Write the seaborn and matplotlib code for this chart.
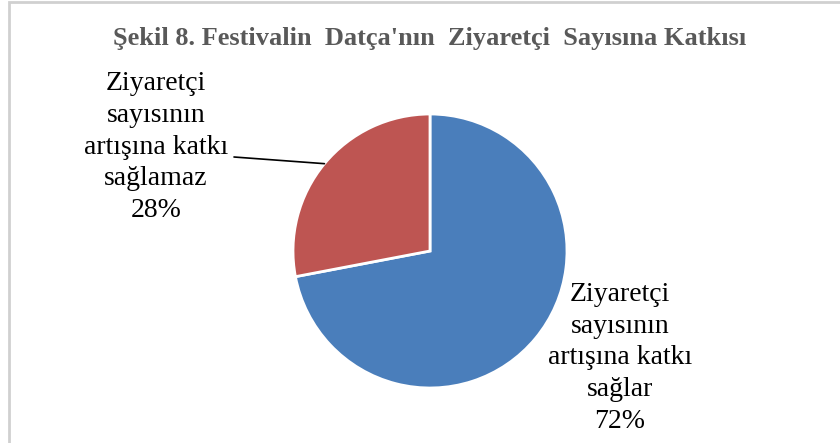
import numpy as np
import seaborn as sns
import matplotlib.pyplot as plt
from matplotlib.patches import Rectangle

# data
labels = ["Ziyaretçi\nsayısının\nartışına katkı\nsağlar\n72%",
          "Ziyaretçi\nsayısının\nartışına katkı\nsağlamaz\n28%"]
values = [72, 28]
colors = ["#4A7EBB", "#BE5552"]
title = "Şekil 8. Festivalin  Datça'nın  Ziyaretçi  Sayısına Katkısı"

sns.set_theme(style="white")
plt.rcParams['font.family'] = ['Liberation Serif', 'DejaVu Serif']

W, H = 840, 443
fig = plt.figure(figsize=(W / 100, H / 100), dpi=100)
fig.patch.set_facecolor('white')

# light grey frame of the chart area
fig.patches.append(Rectangle((9 / W, -0.05), 1.2, 1 - 1.5 / H + 0.05,
                             transform=fig.transFigure, fill=False,
                             edgecolor='#d0d0d0', lw=2))

# pie axes: centre (430, 251), radius 137 px
cx, cy, r = 430, 251, 137
ax = fig.add_axes([(cx - r) / W, (H - cy - r) / H, 2 * r / W, 2 * r / H])
wedges, _ = ax.pie(values, colors=colors, startangle=90, counterclock=False,
                   wedgeprops=dict(edgecolor='white', linewidth=2))
ax.set_xlim(-1, 1)
ax.set_ylim(-1, 1)
ax.set_aspect('equal')
ax.axis('off')

fig.text(cx / W, 1 - 38 / H, title, ha='center', va='center', fontsize=19,
         fontweight='bold', color='#595959')

# labels
fig.text(620 / W, 1 - 358 / H, labels[0], ha='center', va='center',
         fontsize=20, linespacing=1.35, color='black')
fig.text(156 / W, 1 - 147 / H, labels[1], ha='center', va='center',
         fontsize=20, linespacing=1.35, color='black')

# leader line for the small slice
w = wedges[1]
mid = np.deg2rad((w.theta1 + w.theta2) / 2)
ax.annotate("", xy=(np.cos(mid), np.sin(mid)), xycoords='data',
            xytext=(234, H - 157), textcoords='figure pixels',
            arrowprops=dict(arrowstyle='-', color='black', lw=1.2,
                            shrinkA=0, shrinkB=0), annotation_clip=False)

fig.savefig('out.png', dpi=100, facecolor='white')
